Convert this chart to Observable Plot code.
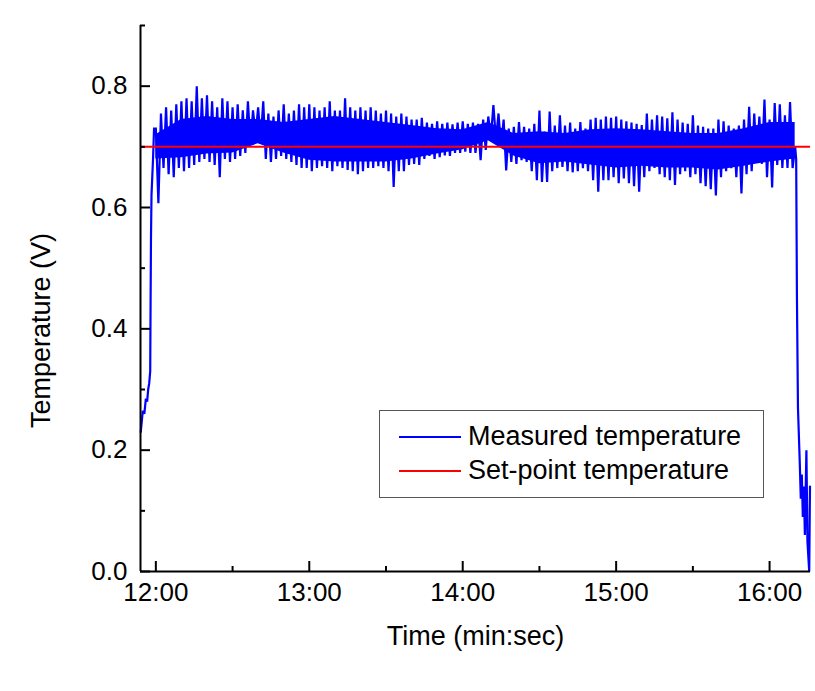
<!DOCTYPE html>
<html>
<head>
<meta charset="utf-8">
<script src="https://cdn.jsdelivr.net/npm/d3@7"></script>
<script src="https://cdn.jsdelivr.net/npm/@observablehq/plot@0.6"></script>
<style>
  html, body { margin: 0; padding: 0; background: white; }
  #wrap { position: relative; width: 815px; height: 691px; font-family: "Liberation Sans", Arial, sans-serif; }
  #legend { position: absolute; left: 379px; top: 410px; width: 385px; height: 88px; box-sizing: border-box;
            border: 1px solid #555; background: white; }
  .item { position: absolute; left: 0; font-size: 27px; line-height: 30px; color: black; white-space: nowrap; }
  .swatch { position: absolute; left: 19px; width: 62px; height: 2px; }
  .lab { position: absolute; left: 88px; }
</style>
</head>
<body>
<div id="wrap"></div>
<script>
// ---- data (seconds since 0:00, volts) ----
const xDomain = [714, 976];
const yDomain = [0, 0.9];
const setPoint = 0.7;

// warm-up before 12:00
const startSecs  = [714.1, 714.9, 715.5, 716.1, 716.6, 717.0, 717.4, 717.8, 717.95, 718.1, 718.3, 718.9, 719.3];
const startVolts = [0.23, 0.265, 0.26, 0.285, 0.28, 0.30, 0.31, 0.33, 0.45, 0.55, 0.62, 0.68, 0.73];

// regulated phase: one sample per second from 12:00, alternating peak (even s) / trough (odd s)
const noiseStart = 720;
const upperVolts = [
  0.73, 0.755, 0.765, 0.76, 0.77, 0.775, 0.78, 0.775, 0.80, 0.78,
  0.785, 0.775, 0.765, 0.78, 0.775, 0.765, 0.77, 0.76, 0.775, 0.76,
  0.765, 0.775, 0.755, 0.75, 0.76, 0.77, 0.755, 0.76, 0.77, 0.765,
  0.77, 0.765, 0.76, 0.765, 0.775, 0.76, 0.76, 0.78, 0.765, 0.76,
  0.765, 0.76, 0.765, 0.76, 0.755, 0.76, 0.755, 0.75, 0.755, 0.75,
  0.745, 0.745, 0.748, 0.74, 0.738, 0.742, 0.738, 0.74, 0.737, 0.74,
  0.742, 0.738, 0.74,
  0.738, 0.745, 0.75, 0.769, 0.755, 0.745, 0.73, 0.733, 0.741, 0.733,
  0.73, 0.738, 0.76, 0.725, 0.758, 0.735, 0.752, 0.735, 0.74, 0.73,
  0.741, 0.73, 0.745, 0.748, 0.745, 0.75, 0.748, 0.75, 0.745, 0.742,
  0.74, 0.738,
  0.736, 0.755, 0.745, 0.752, 0.75, 0.747, 0.757, 0.745, 0.74, 0.738,
  0.752, 0.735, 0.733, 0.73, 0.73, 0.745, 0.742, 0.735, 0.73, 0.735,
  0.745, 0.766, 0.755, 0.75, 0.778, 0.745, 0.772, 0.77, 0.752, 0.774
];
const lowerVolts = [
  0.607, 0.665, 0.655, 0.65, 0.665, 0.66, 0.665, 0.67, 0.675, 0.68,
  0.675, 0.67, 0.65, 0.68, 0.675, 0.68, 0.685, 0.69, 0.705, 0.72,
  0.71, 0.68, 0.675, 0.68, 0.685, 0.68, 0.675, 0.67, 0.665, 0.665,
  0.66, 0.665, 0.668, 0.665, 0.66, 0.668, 0.665, 0.662, 0.66, 0.655,
  0.66, 0.665, 0.665, 0.668, 0.665, 0.66, 0.634, 0.66, 0.66, 0.67,
  0.672, 0.67, 0.68, 0.685, 0.68, 0.683, 0.686, 0.685, 0.69, 0.69,
  0.692, 0.69,
  0.69, 0.678, 0.695, 0.715, 0.712, 0.70, 0.661, 0.675, 0.672, 0.678,
  0.675, 0.66, 0.645, 0.642, 0.642, 0.66, 0.665, 0.667, 0.66, 0.658,
  0.66, 0.665, 0.66, 0.645, 0.626, 0.645, 0.645, 0.65, 0.64, 0.648,
  0.64, 0.635,
  0.626, 0.65, 0.66, 0.665, 0.655, 0.65, 0.645, 0.637, 0.655, 0.66,
  0.65, 0.655, 0.64, 0.635, 0.63, 0.62, 0.65, 0.66, 0.665, 0.65,
  0.623, 0.655, 0.66, 0.675, 0.672, 0.65, 0.633, 0.67, 0.665, 0.665,
  0.665
];

// dense (solid-looking) core of the noise band, read every 10 s from 12:00
const coreStep = 10;
const coreTop = [0.72, 0.745, 0.75, 0.745, 0.745, 0.74, 0.745, 0.75, 0.745, 0.74,
                 0.735, 0.73, 0.728, 0.74, 0.722, 0.725, 0.722, 0.728, 0.73, 0.728,
                 0.725, 0.722, 0.722, 0.73, 0.74, 0.74];
const coreBottom = [0.68, 0.682, 0.688, 0.69, 0.705, 0.69, 0.678, 0.675, 0.675, 0.675,
                    0.68, 0.688, 0.695, 0.71, 0.685, 0.672, 0.675, 0.67, 0.665, 0.668,
                    0.665, 0.665, 0.662, 0.668, 0.675, 0.68];

// switch-off at the end
const endSecs  = [970.0, 970.4, 970.7, 971.1, 971.8, 972.2, 972.6, 973.0, 973.4, 973.8, 974.4, 974.8, 975.5, 975.8];
const endVolts = [0.70, 0.68, 0.45, 0.27, 0.18, 0.12, 0.16, 0.09, 0.14, 0.06, 0.20, 0.05, 0.00, 0.14];

// ticks
const xMajor = [720, 780, 840, 900, 960];
const xMinor = [750, 810, 870, 930];
const xTickLabels = ["12:00", "13:00", "14:00", "15:00", "16:00"];
const yMajor = [0, 0.2, 0.4, 0.6, 0.8];
const yMinor = [0.1, 0.3, 0.5, 0.7, 0.9];
const yTickLabels = ["0.0", "0.2", "0.4", "0.6", "0.8"];

const seriesNames = ["Measured temperature", "Set-point temperature"];
const seriesColors = ["#0000ff", "#ff0000"];
const xTitle = "Time (min:sec)";
const yTitle = "Temperature (V)";

// ---- build trace ----
const trace = [];
startSecs.forEach((t, i) => trace.push({t, v: startVolts[i]}));
for (let i = 0; i < upperVolts.length + lowerVolts.length; i++) {
  const v = i % 2 === 0 ? upperVolts[i / 2] : lowerVolts[(i - 1) / 2];
  trace.push({t: noiseStart + i, v});
}
endSecs.forEach((t, i) => trace.push({t, v: endVolts[i]}));

const core = coreTop.map((top, i) => ({t: noiseStart + i * coreStep, top, bottom: coreBottom[i]}));

const W = 815, H = 691;
const mL = 140, mR = 5, mT = 25, mB = 120;
const plotW = W - mL - mR, plotH = H - mT - mB;

const chart = Plot.plot({
  width: W, height: H,
  marginLeft: mL, marginRight: mR, marginTop: mT, marginBottom: mB,
  x: {domain: xDomain},
  y: {domain: yDomain},
  style: {fontFamily: "'Liberation Sans', Arial, sans-serif", background: "white", color: "black", overflow: "visible"},
  marks: [
    Plot.areaY(core, {x: "t", y1: "bottom", y2: "top", fill: seriesColors[0]}),
    Plot.line(trace, {x: "t", y: "v", stroke: seriesColors[0], strokeWidth: 2.2, strokeLinejoin: "miter", strokeMiterlimit: 2}),
    Plot.ruleY([setPoint], {stroke: seriesColors[1], strokeWidth: 2}),
    Plot.ruleX([xDomain[0]], {stroke: "black", strokeWidth: 2}),
    Plot.ruleY([yDomain[0]], {stroke: "black", strokeWidth: 2}),
    Plot.tickX(xMajor, {x: d => d, insetTop: plotH - 10, stroke: "black", strokeWidth: 2}),
    Plot.tickX(xMinor, {x: d => d, insetTop: plotH - 5, stroke: "black", strokeWidth: 2}),
    Plot.tickY(yMajor, {y: d => d, insetRight: plotW - 10, stroke: "black", strokeWidth: 2}),
    Plot.tickY(yMinor, {y: d => d, insetRight: plotW - 5, stroke: "black", strokeWidth: 2}),
    Plot.axisX({ticks: xMajor, tickSize: 0, tickPadding: 11, fontSize: 26,
      tickFormat: d => xTickLabels[xMajor.indexOf(d)], label: null}),
    Plot.axisY({ticks: yMajor, tickSize: 0, tickPadding: 13, fontSize: 26,
      tickFormat: d => yTickLabels[yMajor.indexOf(d)], label: null}),
    Plot.text([xTitle], {frameAnchor: "bottom", dy: 65, lineAnchor: "middle", textAnchor: "middle", fontSize: 27, text: d => d}),
    Plot.text([yTitle], {frameAnchor: "left", dx: -99, dy: 32, rotate: -90, lineAnchor: "middle", textAnchor: "middle", fontSize: 27, text: d => d})
  ]
});

const wrap = document.getElementById("wrap");
wrap.appendChild(chart);

const legend = document.createElement("div");
legend.id = "legend";
seriesNames.forEach((name, i) => {
  const item = document.createElement("div");
  item.className = "item";
  item.style.top = (i === 0 ? 10 : 44) + "px";
  item.style.width = "100%";
  item.style.height = "30px";
  const sw = document.createElement("div");
  sw.className = "swatch";
  sw.style.background = seriesColors[i];
  sw.style.top = "15px";
  const lab = document.createElement("span");
  lab.className = "lab";
  lab.textContent = name;
  item.appendChild(sw);
  item.appendChild(lab);
  legend.appendChild(item);
});
wrap.appendChild(legend);
</script>
</body>
</html>
